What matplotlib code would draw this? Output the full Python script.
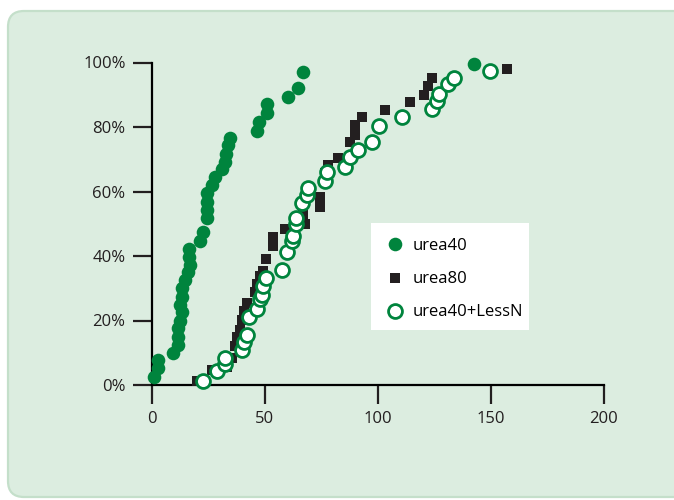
import matplotlib.pyplot as plt
from matplotlib.patches import FancyBboxPatch, Rectangle
from matplotlib.lines import Line2D

# data (x = days, y = cumulative %)
urea40_x = [0.9, 2.8, 2.8, 9.4, 11.6, 11.6, 11.6, 12.4, 13.1, 12.4, 13.1, 13.1, 14.6,
            16.1, 16.8, 16.5, 16.5, 21.2, 22.4, 24.2, 24.2, 24.2, 24.2, 26.4, 27.9,
            30.8, 32.3, 32.7, 33.8, 34.5, 46.6, 47.5, 50.7, 50.7, 60.3, 64.7, 67.0, 142.5]
urea40_y = [2.5, 5.2, 7.7, 10, 12.4, 14.9, 17.6, 20, 22.5, 24.8, 27.3, 30, 32.5,
            35, 37.2, 39.7, 42.2, 44.7, 47.3, 51.8, 54.3, 56.7, 59.5, 62, 64.5,
            67, 69.2, 71.6, 74.4, 76.6, 78.8, 81.5, 84.3, 87.1, 89.3, 92.1, 97, 99.5]

urea80_x = [19.8, 26.4, 33.0, 35.3, 36.7, 37.5, 38.9, 39.7, 40.8, 41.9, 45.6, 46.3,
            47.8, 49.3, 50.4, 53.4, 53.7, 58.8, 67.7, 66.8, 74.5, 74.5, 76.5, 78.0,
            82.4, 87.6, 89.8, 89.8, 92.8, 103.1, 114.2, 120.4, 122.3, 123.8, 157.0]
urea80_y = [1.3, 4.7, 5.7, 8.4, 12.0, 15.0, 17.2, 20.3, 22.8, 25.5, 28.7, 31.3,
            33.8, 35.4, 39.0, 43.0, 45.8, 48.4, 50.0, 53.0, 55.2, 58.3, 65.6, 68.2,
            70.3, 75.5, 77.6, 80.7, 83.0, 85.4, 87.8, 89.8, 92.7, 95.3, 97.9]

lessn_x = [22.7, 28.6, 32.3, 32.3, 40.0, 40.8, 41.9, 43.0, 46.6, 47.8, 48.5, 49.3,
           50.4, 57.4, 59.6, 61.8, 62.5, 63.7, 63.7, 66.2, 68.4, 69.2, 76.5, 77.3,
           85.4, 87.6, 91.3, 97.2, 100.6, 110.5, 123.8, 126.0, 127.1, 131.1, 133.6, 149.6]
lessn_y = [1.25, 4.2, 6.6, 8.3, 10.7, 13.2, 15.6, 21.1, 23.6, 26.6, 28.0, 30.7,
           33.3, 35.7, 41.1, 44.5, 46.1, 50.0, 51.8, 56.3, 58.8, 61.1, 63.2, 66.1,
           67.7, 70.8, 72.9, 75.2, 80.4, 83.1, 85.6, 88.0, 90.1, 93.2, 95.3, 97.4]

x_ticks = [0, 50, 100, 150, 200]
y_ticks = [0, 20, 40, 60, 80, 100]

green = '#00843d'
black = '#231f20'
bg = '#dcede0'

plt.rcParams['font.family'] = ['Open Sans', 'DejaVu Sans']

fig = plt.figure(figsize=(6.74, 5.0), dpi=100, facecolor='white')

# rounded panel behind the chart, drawn in pixel units
bg_ax = fig.add_axes([0, 0, 1, 1], zorder=0)
bg_ax.set_xlim(0, 674)
bg_ax.set_ylim(0, 500)
bg_ax.axis('off')
bg_ax.add_patch(FancyBboxPatch((8, 3), 700, 486, boxstyle='round,pad=0,rounding_size=16',
                               fc=bg, ec='#c4dfca', lw=1.6))
# white legend box
bg_ax.add_patch(Rectangle((371, 170), 158, 107, fc='white', ec='none'))

ax = fig.add_axes([152 / 674, 1 - 385 / 500, 452 / 674, 322.5 / 500], zorder=1)
ax.patch.set_alpha(0)
ax.set_xlim(0, 200)
ax.set_ylim(0, 100)

ax.plot(urea80_x, urea80_y, 's', color=black, ms=7, mew=0, clip_on=False, zorder=3)
ax.plot(lessn_x, lessn_y, 'o', mfc='white', mec=green, ms=10, mew=2, clip_on=False, zorder=4)
ax.plot(urea40_x, urea40_y, 'o', color=green, ms=9.8, mew=0, clip_on=False, zorder=5)

for s in ['top', 'right']:
    ax.spines[s].set_visible(False)
for s in ['left', 'bottom']:
    ax.spines[s].set_linewidth(1.6)
    ax.spines[s].set_color('black')

ax.set_xticks(x_ticks)
ax.set_yticks(y_ticks)
ax.set_yticklabels([f'{v}%' for v in y_ticks])
ax.tick_params(axis='both', direction='out', length=14, width=1.6, labelsize=12, colors='#231f20')
ax.tick_params(axis='x', pad=5)
ax.tick_params(axis='y', pad=5)

handles = [
    Line2D([], [], ls='none', marker='o', color=green, ms=9.8, mew=0),
    Line2D([], [], ls='none', marker='s', color=black, ms=7, mew=0),
    Line2D([], [], ls='none', marker='o', mfc='white', mec=green, ms=10, mew=2),
]
fig.legend(handles, ['urea40', 'urea80', 'urea40+LessN'], loc='upper left',
           bbox_to_anchor=(377 / 674, 1 - 230 / 500), frameon=False, fontsize=12,
           labelspacing=1.02, handletextpad=0.45, handlelength=1.2, borderpad=0)

fig.savefig('out.png', dpi=100, facecolor='white')
